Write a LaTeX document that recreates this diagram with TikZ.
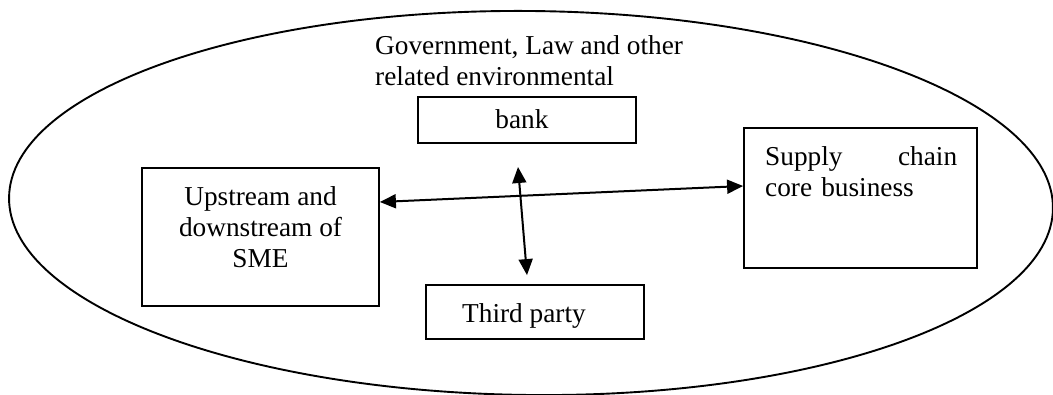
\documentclass[tikz,border=0pt]{standalone}
\usepackage{fontspec}
\setmainfont{Liberation Serif}
\usetikzlibrary{arrows.meta}
\begin{document}
\begin{tikzpicture}[x=1pt,y=-1pt,
  box/.style={draw, line width=1.8pt, inner sep=0pt, rectangle},
  txt/.style={inner sep=0pt, font=\fontsize{27.3}{31}\selectfont},
  conn/.style={line width=2pt, {Triangle[length=16pt,width=14pt]}-{Triangle[length=16pt,width=14pt]}}]
\useasboundingbox (0,0) rectangle (1053,394);
\clip (0,0) rectangle (1053,394);
% environment ellipse
\draw[line width=1.9pt, rotate around={-0.6:(531,203)}] (531,203) ellipse [x radius=522, y radius=192];
\node[txt, anchor=base west, align=left] (env) at (375,85) {Government, Law and other\\related environmental};
% boxes
\node[box, minimum width=218pt, minimum height=46pt] (bank) at (527,120) {};
\node[txt, anchor=base] (banktxt) at (522,128) {bank};
\node[box, minimum width=237pt, minimum height=138pt] (up) at (260.5,237) {};
\node[txt, anchor=base, align=center] (uptxt) at (260.5,267) {Upstream and\\downstream of\\SME};
\node[box, minimum width=233pt, minimum height=140pt] (sc) at (860.5,198) {};
\node[txt, anchor=base west, align=left, text width=192pt] (sctxt) at (765,165) {Supply\hfill chain\\core business};
\node[box, minimum width=218pt, minimum height=54pt] (tp) at (535,312) {};
\node[txt, anchor=base west] (tptxt) at (462,322) {Third party};
% connectors
\draw[conn] ([yshift=35pt]up.east) -- ([yshift=12pt]sc.west);
\coordinate (vt) at (518,167);
\draw[conn] (vt) -- ([xshift=-8pt,yshift=9pt]tp.north);
\end{tikzpicture}
\end{document}
